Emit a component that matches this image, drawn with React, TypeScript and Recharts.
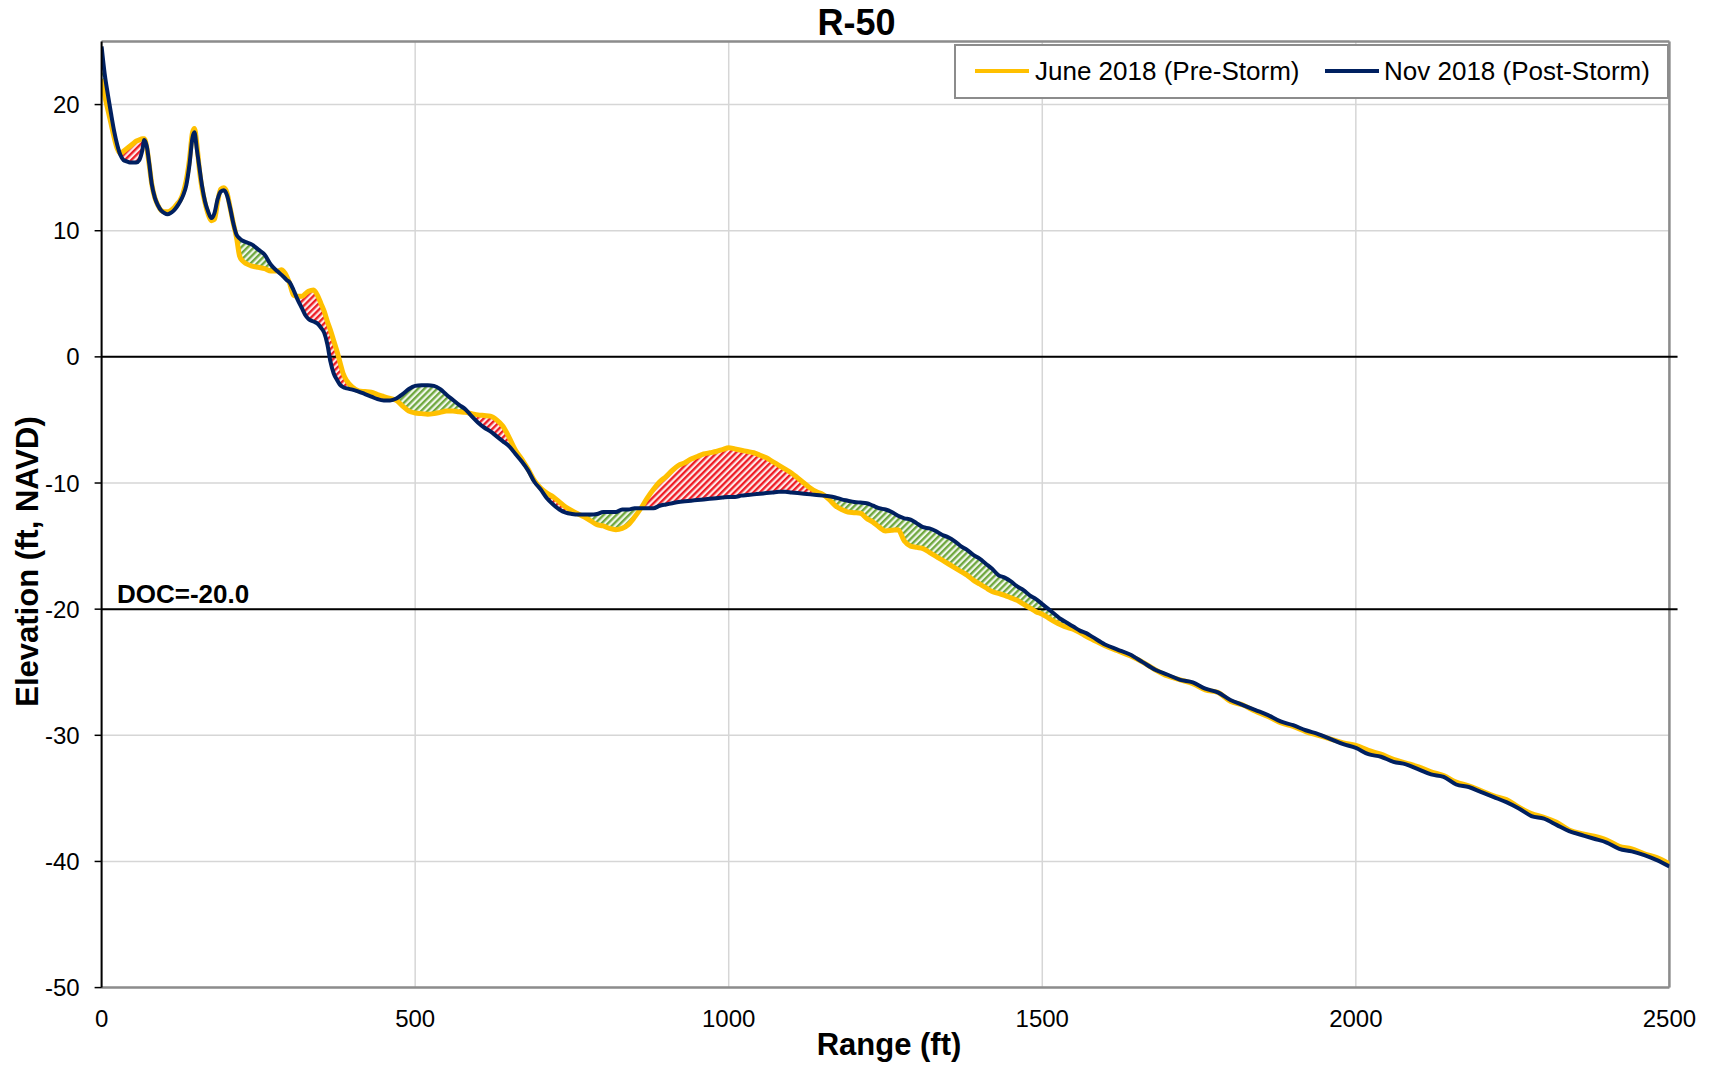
import React from "react";
import {
  ComposedChart,
  Line,
  Area,
  XAxis,
  YAxis,
  CartesianGrid,
  ReferenceLine,
  Legend,
  Label,
} from "recharts";

const FONT = '"Liberation Sans", Arial, Helvetica, sans-serif';

const chartTitle = "R-50";
const seriesNames = ["June 2018 (Pre-Storm)", "Nov 2018 (Post-Storm)"];
const xTicks = [0, 500, 1000, 1500, 2000, 2500];
const yTicks = [-50, -40, -30, -20, -10, 0, 10, 20];
const docValue = -20;

const rangeFt = [
  0, 5, 10, 15, 20, 25, 30, 35, 40, 45, 50, 55, 60, 65, 68, 72, 76, 80, 85, 90,
  95, 100, 105, 110, 115, 120, 125, 130, 135, 140, 145, 148, 152, 156, 160, 165,
  170, 175, 180, 185, 190, 195, 200, 205, 210, 215, 220, 225, 230, 240, 250, 260,
  270, 280, 287, 295, 300, 306, 312, 320, 325, 330, 338, 345, 350, 355, 360, 365,
  370, 375, 380, 385, 391, 400,
  410, 420, 430, 440, 450, 460, 470, 480, 490, 500, 510, 520, 530, 540, 550, 560,
  570, 580, 590, 600, 610, 620, 630, 640, 650, 660, 670, 680, 690, 700, 710, 720,
  730, 740, 750, 760, 770, 780, 790, 800, 810, 820, 830, 840, 850, 860, 870, 880,
  890, 900, 910, 920, 930, 940, 950, 960, 970, 980, 990, 1000, 1010, 1020, 1030,
  1040, 1050, 1060, 1070, 1080, 1090, 1100, 1110, 1120, 1130, 1140, 1150, 1160,
  1170, 1180, 1190, 1200, 1210, 1220, 1230, 1240, 1250, 1260, 1270, 1280, 1290,
  1300, 1310, 1320, 1330, 1340, 1350, 1360, 1370, 1380, 1390, 1400, 1410, 1420,
  1430, 1440, 1450, 1460, 1470, 1480, 1490, 1500, 1510, 1520, 1530, 1540, 1550,
  1560, 1570, 1580,
  1600, 1620, 1640, 1660, 1680, 1700, 1720, 1740, 1760, 1780, 1800, 1820, 1840,
  1860, 1880, 1900, 1920, 1940, 1960, 1980, 2000, 2020, 2040, 2060, 2080, 2100,
  2120, 2140, 2160, 2180, 2200, 2220, 2240, 2260, 2280, 2300, 2320, 2340, 2360,
  2380, 2400, 2420, 2440, 2460, 2480, 2500,
];

const june2018 = [
  22.0, 20.7, 19.6, 18.5, 17.4, 16.5, 16.1, 16.3, 16.5, 16.7, 16.9, 17.1, 17.2, 17.3, 17.3, 16.6, 15.2, 13.7, 12.6, 12.0,
  11.6, 11.5, 11.5, 11.6, 11.8, 12.1, 12.4, 13.0, 14.0, 15.6, 17.8, 18.1, 16.8, 14.8, 13.4, 12.2,
  11.3, 10.8, 10.9, 12.3, 13.3, 13.4, 13.0, 11.8, 10.6, 9.5, 8.0, 7.6, 7.4, 7.2, 7.1, 7.0,
  6.8, 6.8, 6.9, 6.4, 5.8, 4.9, 4.8, 4.8, 5.0, 5.2, 5.3, 4.8, 4.2, 3.6, 2.8, 2.1,
  1.3, 0.5, -0.4, -1.3, -1.9, -2.4,
  -2.7, -2.75, -2.8, -3.0, -3.15, -3.3, -3.45, -3.9, -4.3, -4.45, -4.5, -4.55, -4.5, -4.4, -4.3, -4.3,
  -4.35, -4.4, -4.5, -4.6, -4.65, -4.7, -5.0, -5.5, -6.4, -7.4, -8.1, -8.9, -9.8, -10.4, -10.8, -11.1,
  -11.5, -11.9, -12.2, -12.45, -12.7, -13.0, -13.3, -13.4, -13.6, -13.7, -13.6, -13.3, -12.7, -12.0, -11.2, -10.5,
  -9.9, -9.5, -9.0, -8.6, -8.4, -8.1, -7.9, -7.7, -7.6, -7.5, -7.35, -7.2, -7.3, -7.4, -7.5,
  -7.6, -7.8, -8.0, -8.3, -8.6, -8.9, -9.2, -9.6, -10.0, -10.4, -10.7, -10.9, -11.3,
  -11.8, -12.1, -12.3, -12.35, -12.4, -12.8, -13.1, -13.5, -13.8, -13.75, -13.7, -14.6, -15.0,
  -15.1, -15.2, -15.5, -15.8, -16.1, -16.4, -16.7, -17.0, -17.3, -17.7, -18.0, -18.3, -18.6,
  -18.75, -18.9, -19.1, -19.3, -19.6, -19.9, -20.2, -20.4, -20.7, -21.0, -21.25, -21.45, -21.6,
  -21.85, -22.15, -22.4,
  -22.9, -23.3, -23.7, -24.2, -24.8, -25.3, -25.6, -25.9, -26.4, -26.6, -27.3, -27.6, -28.1,
  -28.5, -29.0, -29.3, -29.7, -30.0, -30.3, -30.6, -30.8, -31.2, -31.5, -31.9, -32.2, -32.5,
  -32.9, -33.2, -33.7, -34.0, -34.4, -34.8, -35.1, -35.7, -36.2, -36.5, -36.9, -37.5, -37.8,
  -38.0, -38.3, -38.8, -39.0, -39.4, -39.7, -40.2,
];

const nov2018 = [
  24.6, 22.4, 20.8, 19.3, 17.9, 16.8, 16.0, 15.6, 15.5, 15.4, 15.4, 15.4, 15.6, 16.4, 17.2, 16.7, 15.3, 13.7, 12.6, 12.0,
  11.6, 11.4, 11.3, 11.4, 11.6, 11.9, 12.3, 12.8, 13.6, 15.2, 17.4, 17.8, 16.4, 15.0, 13.6, 12.3,
  11.5, 11.0, 11.4, 12.5, 13.1, 13.2, 12.8, 11.8, 10.6, 9.7, 9.4, 9.2, 9.1, 8.9, 8.5, 8.1,
  7.3, 6.8, 6.5, 6.1, 5.9, 5.3, 4.6, 3.8, 3.3, 3.0, 2.8, 2.6, 2.3, 1.9, 1.0, -0.4,
  -1.3, -1.8, -2.2, -2.4, -2.5, -2.6,
  -2.75, -2.95, -3.15, -3.35, -3.45, -3.45, -3.3, -2.95, -2.55, -2.3, -2.25, -2.25, -2.3, -2.55, -3.0, -3.4,
  -3.8, -4.15, -4.7, -5.2, -5.6, -5.9, -6.3, -6.7, -7.1, -7.7, -8.3, -9.0, -9.9, -10.5, -11.2, -11.7,
  -12.1, -12.35, -12.45, -12.5, -12.5, -12.5, -12.45, -12.3, -12.3, -12.3, -12.1, -12.1, -12.0, -12.0, -12.0, -12.0,
  -11.8, -11.7, -11.6, -11.5, -11.45, -11.4, -11.35, -11.3, -11.25, -11.2, -11.15, -11.1, -11.1, -11.0, -10.95,
  -10.9, -10.85, -10.8, -10.75, -10.7, -10.7, -10.75, -10.8, -10.85, -10.9, -10.95, -11.0, -11.05,
  -11.15, -11.3, -11.4, -11.5, -11.55, -11.6, -11.8, -12.0, -12.1, -12.3, -12.6, -12.8, -12.9,
  -13.2, -13.5, -13.6, -13.8, -14.1, -14.3, -14.6, -15.0, -15.3, -15.7, -16.0, -16.4, -16.8,
  -17.3, -17.5, -17.8, -18.2, -18.5, -18.9, -19.2, -19.6, -20.0, -20.4, -20.8, -21.1, -21.4,
  -21.7, -21.9, -22.2,
  -22.8, -23.2, -23.6, -24.2, -24.8, -25.2, -25.6, -25.8, -26.3, -26.6, -27.2, -27.6, -28.0,
  -28.4, -28.9, -29.2, -29.6, -29.9, -30.3, -30.7, -31.0, -31.5, -31.7, -32.1, -32.3, -32.7,
  -33.1, -33.3, -33.9, -34.1, -34.5, -34.9, -35.3, -35.8, -36.4, -36.6, -37.1, -37.6, -37.9,
  -38.2, -38.5, -39.0, -39.2, -39.5, -39.9, -40.4,
];

const data = rangeFt.map((x, i) => {
  const j = june2018[i];
  const n = nov2018[i];
  return {
    x,
    june: j,
    nov: n,
    loss: j > n ? [n, j] : [n, n],
    gain: n > j ? [j, n] : [j, j],
  };
});

const W = 1697;
const H = 1054;

const renderLegend = () => (
  <div
    style={{
      position: "relative",
      width: 715,
      height: 55,
      boxSizing: "border-box",
      border: "2px solid #8c8c8c",
      background: "#fff",
      fontFamily: FONT,
      fontSize: 26,
      color: "#000",
    }}
  >
    <div style={{ position: "absolute", left: 19, top: 23, width: 54, height: 4, background: "#FFC000" }} />
    <span style={{ position: "absolute", left: 79, top: 10, lineHeight: "30px", whiteSpace: "nowrap" }}>
      {seriesNames[0]}
    </span>
    <div style={{ position: "absolute", left: 369, top: 23, width: 54, height: 4, background: "#002060" }} />
    <span style={{ position: "absolute", left: 428, top: 10, lineHeight: "30px", whiteSpace: "nowrap" }}>
      {seriesNames[1]}
    </span>
  </div>
);

export default function App() {
  return (
    <div style={{ position: "relative", width: W, height: H, fontFamily: FONT }}>
      <ComposedChart
        width={W}
        height={H}
        data={data}
        margin={{ top: 33.5, right: 35.6, left: 0, bottom: 14.4 }}
      >
        <defs>
          <pattern id="redHatch" patternUnits="userSpaceOnUse" width="4.5" height="4.5" patternTransform="rotate(45)">
            <rect x="0" y="0" width="4.5" height="4.5" fill="#fde8e8" />
            <rect x="0" y="0" width="2.3" height="4.5" fill="#ee1c25" />
          </pattern>
          <pattern id="greenHatch" patternUnits="userSpaceOnUse" width="4.5" height="4.5" patternTransform="rotate(45)">
            <rect x="0" y="0" width="4.5" height="4.5" fill="#f0f6ea" />
            <rect x="0" y="0" width="2.3" height="4.5" fill="#6fa83f" />
          </pattern>
        </defs>
        <CartesianGrid stroke="#d6d6d6" strokeWidth={1.5} />
        <XAxis
          dataKey="x"
          type="number"
          domain={[0, 2500]}
          ticks={xTicks}
          allowDataOverflow
          height={60}
          tickSize={0}
          tickMargin={22}
          axisLine={{ stroke: "#8c8c8c", strokeWidth: 2.5 }}
          tick={{ fill: "#000", fontSize: 24, fontFamily: FONT }}
        >
          <Label
            content={() => (
              <text x={881} y={1047} textAnchor="middle" fontSize={31} fontWeight="bold" fontFamily={FONT} fill="#000">
                Range (ft)
              </text>
            )}
          />
        </XAxis>
        <YAxis
          type="number"
          domain={[-50, 25]}
          ticks={yTicks}
          allowDataOverflow
          width={93.6}
          tickSize={7}
          tickMargin={15}
          axisLine={{ stroke: "#000", strokeWidth: 2 }}
          tickLine={{ stroke: "#000", strokeWidth: 1.5 }}
          tick={{ fill: "#000", fontSize: 24, fontFamily: FONT }}
        >
          <Label
            content={() => (
              <text
                x={19}
                y={553.5}
                transform="rotate(-90 19 553.5)"
                textAnchor="middle"
                dominantBaseline="central"
                fontSize={31}
                fontWeight="bold"
                fontFamily={FONT}
                fill="#000"
              >
                Elevation (ft, NAVD)
              </text>
            )}
          />
        </YAxis>
        <ReferenceLine y={25} stroke="#8c8c8c" strokeWidth={2.5} />
        <ReferenceLine x={2500} stroke="#8c8c8c" strokeWidth={2.5} />
        <ReferenceLine
          segment={[{ x: 0, y: 0 }, { x: 2513, y: 0 }]}
          ifOverflow="visible"
          stroke="#000"
          strokeWidth={2}
        />
        <ReferenceLine
          segment={[{ x: 0, y: docValue }, { x: 2513, y: docValue }]}
          ifOverflow="visible"
          stroke="#000"
          strokeWidth={2}
        >
          <Label
            content={() => (
              <text x={109} y={595} fontSize={26} fontWeight="bold" fontFamily={FONT} fill="#000">
                {`DOC=${docValue.toFixed(1)}`}
              </text>
            )}
          />
        </ReferenceLine>
        <Area
          type="monotone"
          dataKey="loss"
          stroke="none"
          fill="url(#redHatch)"
          fillOpacity={1}
          isAnimationActive={false}
          legendType="none"
        />
        <Area
          type="monotone"
          dataKey="gain"
          stroke="none"
          fill="url(#greenHatch)"
          fillOpacity={1}
          isAnimationActive={false}
          legendType="none"
        />
        <Line
          type="monotone"
          dataKey="june"
          name={seriesNames[0]}
          stroke="#FFC000"
          strokeWidth={5}
          dot={false}
          activeDot={false}
          isAnimationActive={false}
        />
        <Line
          type="monotone"
          dataKey="nov"
          name={seriesNames[1]}
          stroke="#002060"
          strokeWidth={4}
          dot={false}
          activeDot={false}
          isAnimationActive={false}
        />
        <Legend
          layout="horizontal"
          verticalAlign="middle"
          align="center"
          content={renderLegend}
          wrapperStyle={{ left: 946, top: 36, width: 715, height: 55, right: "auto", bottom: "auto" }}
        />
      </ComposedChart>
      <div
        style={{
          position: "absolute",
          left: 0,
          top: -3.5,
          width: W,
          textAlign: "center",
          fontSize: 36,
          lineHeight: "36px",
          fontWeight: "bold",
          fontFamily: FONT,
          color: "#000",
        }}
      >
        {chartTitle}
      </div>
    </div>
  );
}
